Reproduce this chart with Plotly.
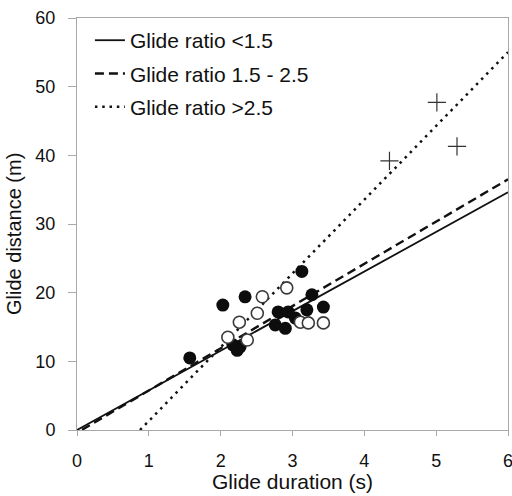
import plotly.graph_objects as go

# ---- data ----
filled_x = [1.57, 2.03, 2.34, 2.17, 2.27, 2.23, 2.80, 2.94, 3.04, 2.76, 2.90, 3.13, 3.27, 3.20, 3.43]
filled_y = [10.5, 18.2, 19.4, 12.4, 12.1, 11.6, 17.2, 17.2, 16.3, 15.3, 14.8, 23.1, 19.7, 17.5, 17.9]

open_x = [2.92, 2.58, 2.51, 2.26, 2.10, 2.37, 3.11, 3.22, 3.43]
open_y = [20.7, 19.4, 17.0, 15.7, 13.5, 13.1, 15.7, 15.6, 15.6]

cross_x = [4.35, 5.01, 5.29]
cross_y = [39.2, 47.7, 41.3]

# regression lines: name, slope, intercept, x start, x end
line_names = ["Glide ratio <1.5", "Glide ratio 1.5 - 2.5", "Glide ratio >2.5"]
line_slopes = [5.77, 6.15, 10.74]
line_intercepts = [0.0, -0.4, -9.42]
line_x_start = [0.0, 0.07, 0.877]
line_x_end = [6.0, 6.0, 6.0]

x_ticks = [0, 1, 2, 3, 4, 5, 6]
y_ticks = [0, 10, 20, 30, 40, 50, 60]

x_title = "Glide duration (s)"
y_title = "Glide distance (m)"

# ---- styling ----
FONT = "Liberation Sans, Arial, sans-serif"
AX = "#a8a8a8"
dashes = ["solid", "9px,5px", "2.5px,4.8px"]
widths = [1.8, 2.4, 2.5]

fig = go.Figure()

for i, name in enumerate(line_names):
    xs = [line_x_start[i], line_x_end[i]]
    ys = [line_slopes[i] * x + line_intercepts[i] for x in xs]
    fig.add_trace(go.Scatter(
        x=xs, y=ys, mode="lines", name=name,
        legendgroup=f"g{i}",
        line=dict(color="#111111", width=widths[i], dash=dashes[i]),
    ))

fig.add_trace(go.Scatter(
    x=filled_x, y=filled_y, mode="markers", showlegend=False,
    marker=dict(symbol="circle", size=13, color="#0d0d0d", line=dict(width=0)),
))
fig.add_trace(go.Scatter(
    x=open_x, y=open_y, mode="markers", showlegend=False,
    marker=dict(symbol="circle", size=12, color="white",
                line=dict(width=1.6, color="#3a3a3a")),
))
fig.add_trace(go.Scatter(
    x=cross_x, y=cross_y, mode="markers", showlegend=False,
    marker=dict(symbol="cross-thin", size=13, color="#333333",
                line=dict(width=1.2, color="#333333")),
))

fig.update_layout(
    width=512, height=496,
    margin=dict(l=77, r=4, t=18, b=66),
    paper_bgcolor="white", plot_bgcolor="white",
    font=dict(family=FONT, color="#111111", size=18),
    legend=dict(
        x=0.03, y=0.995, xanchor="left", yanchor="top",
        font=dict(family=FONT, size=21, color="#111111"),
        bgcolor="rgba(0,0,0,0)", traceorder="grouped",
        tracegroupgap=3, itemwidth=30,
    ),
    xaxis=dict(
        range=[0, 6], tickvals=x_ticks, ticktext=[str(v) for v in x_ticks],
        showgrid=False, zeroline=False, showline=True, linecolor=AX, linewidth=1,
        mirror=True, ticks="outside", ticklen=5, tickcolor=AX,
        tickfont=dict(size=18), ticklabelstandoff=9, automargin=False,
        ticklabeloverflow="allow",
    ),
    yaxis=dict(
        range=[0, 60], tickvals=y_ticks, ticktext=[str(v) for v in y_ticks],
        showgrid=False, zeroline=False, showline=True, linecolor=AX, linewidth=1,
        mirror=True, ticks="outside", ticklen=8, tickcolor=AX,
        tickfont=dict(size=18), ticklabelstandoff=9, automargin=False,
    ),
    annotations=[
        dict(text=x_title, xref="paper", yref="paper", x=0.5, y=-0.125,
             xanchor="center", yanchor="middle", showarrow=False,
             font=dict(family=FONT, size=21, color="#111111")),
        dict(text=y_title, xref="paper", yref="paper", x=-0.146, y=0.476,
             xanchor="center", yanchor="middle", showarrow=False, textangle=-90,
             font=dict(family=FONT, size=20, color="#111111")),
    ],
)

# remove the default 8px page margin so the figure fills the window exactly
fig.write_html("out.html", config={"displayModeBar": False},
               post_script="document.body.style.margin='0';")
